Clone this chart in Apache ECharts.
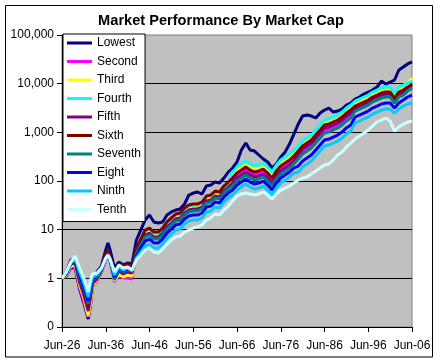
<!DOCTYPE html>
<html>
<head>
<meta charset="utf-8">
<script src="https://cdn.jsdelivr.net/npm/echarts@6/dist/echarts.min.js"></script>
<style>
html,body{margin:0;padding:0;background:#fff;}
#c{width:442px;height:363px;}
</style>
</head>
<body>
<div id="c"></div>
<script>
// Months since Jun-1926 for each observation
var months = [0,12,24,36,48,60,72,78,84,96,108,120,126,132,144,156,168,180,192,204,216,228,
240,252,264,276,288,300,312,324,336,348,360,372,384,396,408,420,432,444,456,468,
480,492,504,516,528,540,552,564,576,588,600,612,624,636,648,660,672,684,696,708,
720,732,744,756,768,780,792,804,816,828,840,852,864,876,888,900,912,924,936,948,960];

var xTicks = [0,120,240,360,480,600,720,840,960];
var xTickLabels = ['Jun-26','Jun-36','Jun-46','Jun-56','Jun-66','Jun-76','Jun-86','Jun-96','Jun-06'];

var seriesNames = ['Lowest','Second','Third','Fourth','Fifth','Sixth','Seventh','Eight','Ninth','Tenth'];
var seriesColors = ['#000080','#FF00FF','#FFFF00','#00FFFF','#800080','#800000','#008080','#0000FF','#00CCFF','#CCFFFF'];

var lowest = [1,1.12,1.63,1.63,0.603,0.311,0.146,0.270,0.800,1.35,1.79,3.82,5.32,3.82,1.63,2.16,1.88,2.06,1.97,6.13,9.83,15.8,
20.0,14.4,13.7,14.4,20.0,23.1,25.3,26.6,33.7,51.5,56.6,59.4,54.0,78.8,82.6,95.2,90.8,115,153,
185,246,433,603,433,413,342,283,246,185,224,311,394,575,922,
1480,2160,2270,2160,1970,2490,2870,3160,2610,2740,3010,3640,4000,
4840,5320,6130,6730,7400,8530,11300,9820,10800,11900,19100,22000,25400,27900];

var second = [1,1.17,1.71,1.71,0.663,0.342,0.161,0.283,0.695,0.880,1.29,2.38,2.87,2.06,0.839,1.17,1.01,1.01,0.967,3.47,5.57,8.14,
8.94,7.40,7.06,8.94,11.9,14.4,17.4,18.2,23.1,26.6,27.9,27.9,30.6,40.7,42.6,51.5,49.1,65.2,78.8,
99.8,127,146,168,146,133,139,153,127,99.8,139,176,203,234,283,
326,413,476,549,695,880,1120,1170,1290,1410,1630,1970,2270,
3160,3470,3820,4200,4840,5320,5840,6130,6130,4610,6130,6730,7760,8530];

var third = [1,1.17,1.79,1.88,0.728,0.394,0.168,0.311,0.728,0.922,1.35,2.49,3.01,2.16,0.880,1.23,1.06,1.17,1.12,3.47,5.57,8.14,
8.94,7.40,7.76,8.94,11.9,14.4,17.4,18.2,23.1,26.6,29.2,30.6,32.1,42.6,44.7,54.0,51.5,68.4,82.6,
133,168,194,224,194,176,185,203,168,133,185,234,270,311,376,
476,603,695,800,1010,1290,1630,1710,1880,2060,2380,2870,3310,
4000,4400,4840,5320,6130,6730,7400,7760,7760,5840,7760,8530,10300,13100];

var fourth = [1,1.23,1.97,2.06,0.880,0.499,0.246,0.433,0.839,1.01,1.48,2.74,3.31,2.49,1.01,1.41,1.23,1.35,1.29,3.82,6.13,9.38,
10.3,8.53,8.53,10.3,13.7,16.6,20.0,21.0,26.6,30.6,32.1,32.1,35.3,46.9,49.1,59.4,56.6,75.2,90.8,
153,194,224,258,224,203,213,234,194,153,213,270,311,359,433,
523,663,763,880,1120,1410,1790,1880,2060,2270,2610,3160,3640,
4400,4840,5320,5840,6730,7400,8140,8530,8530,6420,8530,9370,10300,11300];

var fifth = [1,1.23,1.97,2.06,0.839,0.454,0.213,0.394,0.800,0.967,1.41,2.61,3.16,2.38,0.967,1.41,1.23,1.35,1.29,3.31,5.32,7.76,
8.53,7.06,7.06,8.53,11.4,13.7,16.6,17.4,22.0,25.3,26.6,26.6,29.2,38.8,40.7,49.1,46.9,62.2,75.2,
90.8,115,133,153,133,121,127,139,115,90.8,127,161,185,213,258,
359,454,523,603,763,967,1230,1290,1410,1550,1790,2160,2490,
3160,3470,3820,4200,4840,5320,5840,6130,6130,4610,6130,6730,8140,9820];

var sixth = [1,1.35,2.38,2.49,1.01,0.549,0.270,0.499,0.922,1.12,1.63,3.16,3.82,2.87,1.29,1.97,1.79,1.97,1.79,4.00,6.42,9.83,
10.8,8.94,8.94,10.8,14.4,17.4,21.0,22.0,27.9,32.1,33.7,33.7,37.0,49.1,51.5,62.2,59.4,78.8,95.2,
115,146,168,194,168,153,161,176,146,115,161,203,234,270,326,
413,523,603,695,880,1120,1410,1480,1630,1790,2060,2490,2870,
3470,3820,4200,4610,5320,5840,6420,6730,6730,5070,6730,7400,8530,9370];

var seventh = [1,1.29,2.06,2.38,1.06,0.603,0.297,0.523,0.922,1.06,1.48,2.61,3.16,2.38,0.922,1.55,1.35,1.48,1.41,3.16,4.84,7.06,
7.76,6.42,6.42,7.76,10.3,12.5,15.1,15.8,20.0,23.1,24.2,24.2,26.6,35.3,37.0,44.7,42.6,56.6,68.4,
78.8,99.8,115,133,115,105,110,121,99.8,78.8,110,139,161,185,224,
283,359,413,476,603,763,967,1010,1120,1230,1410,1710,1970,
2740,3010,3310,3640,4200,4610,5070,5320,5320,4000,5320,5840,7060,8140];

var eighth = [1,1.29,2.06,2.49,1.17,0.663,0.342,0.603,0.967,1.12,1.55,2.61,3.01,2.38,1.06,1.63,1.41,1.55,1.41,2.87,4.20,5.84,
6.42,5.32,5.32,6.42,8.53,10.3,12.5,13.1,16.6,19.1,20.0,20.0,22.0,29.2,30.6,37.0,35.3,46.9,56.6,
65.2,82.6,95.2,110,95.2,86.6,90.8,99.8,82.6,65.2,90.8,115,133,153,185,
203,258,297,342,433,549,695,728,800,880,1010,1230,1410,
2060,2270,2490,2740,3160,3470,3820,4000,4000,3160,4000,4610,5320,5840];

var ninth = [1,1.35,2.06,2.61,1.35,0.800,0.413,0.728,1.06,1.17,1.55,2.61,3.01,2.38,1.17,1.71,1.48,1.63,1.41,2.61,3.47,4.61,
5.07,4.20,4.20,5.07,6.73,8.14,9.83,10.3,13.1,15.1,15.8,15.8,17.4,23.1,24.2,29.2,27.9,37.0,44.7,
51.5,65.2,75.2,86.6,75.2,68.4,71.7,78.8,65.2,51.5,71.7,90.8,105,121,146,
153,194,224,258,326,413,523,549,603,663,763,922,1060,
1550,1710,1880,2060,2380,2610,2870,3010,3010,2490,3010,3470,3820,4000];

var tenth = [1,1.35,2.16,2.87,1.63,1.01,0.523,0.922,1.23,1.29,1.63,2.61,3.01,2.49,1.35,1.88,1.63,1.71,1.48,2.38,3.01,3.82,
4.20,3.47,3.31,4.00,5.07,6.13,7.06,7.40,8.94,9.83,10.8,11.4,12.5,15.8,17.4,21.0,20.0,25.3,30.6,
38.8,49.1,54.0,56.6,54.0,51.5,54.0,59.4,51.5,42.6,54.0,65.2,71.7,78.8,90.8,
105,115,121,139,161,185,213,224,270,342,394,499,603,
728,839,967,1120,1350,1630,1790,1970,1710,1060,1290,1480,1630,1710];

var yTickLabels = {0.1:'0',1:'1',10:'10',100:'100',1000:'1,000',10000:'10,000',100000:'100,000'};

var allValues = [lowest,second,third,fourth,fifth,sixth,seventh,eighth,ninth,tenth];
var FONT = 'Arial, "Liberation Sans", sans-serif';

var series = seriesNames.map(function(name, k){
  return {
    name: name,
    type: 'line',
    data: months.map(function(m, i){ return [m, allValues[k][i]]; }),
    showSymbol: false,
    symbol: 'none',
    lineStyle: {width: 3, color: seriesColors[k]},
    itemStyle: {color: seriesColors[k]},
    emphasis: {disabled: true}
  };
});

var chart = echarts.init(document.getElementById('c'), null, {renderer: 'canvas'});
chart.setOption({
  animation: false,
  backgroundColor: '#ffffff',
  title: {
    text: 'Market Performance By Market Cap',
    left: 'center',
    top: 8,
    textStyle: {fontFamily: FONT, fontSize: 14.6, fontWeight: 'bold', color: '#000'}
  },
  graphic: [{
    type: 'rect',
    shape: {x: 5.5, y: 5.5, width: 427, height: 351.5},
    style: {fill: null, stroke: '#000', lineWidth: 1},
    silent: true,
    z: 0
  }],
  legend: {
    orient: 'vertical',
    left: 63,
    top: 34,
    data: seriesNames,
    icon: 'rect',
    itemWidth: 25,
    itemHeight: 3,
    itemGap: 4.5,
    padding: [2, 4, 5, 4],
    backgroundColor: '#ffffff',
    borderColor: '#000000',
    borderWidth: 1,
    textStyle: {fontFamily: FONT, fontSize: 12, lineHeight: 14, color: '#000'},
    selectedMode: false
  },
  grid: {
    left: 62, right: 30, top: 35, bottom: 36,
    show: true,
    backgroundColor: '#C0C0C0',
    borderColor: '#808080',
    borderWidth: 1
  },
  xAxis: {
    type: 'value',
    min: 0, max: 960, interval: 120,
    axisLine: {show: true, onZero: false, lineStyle: {color: '#000', width: 1}},
    axisTick: {show: true, length: 5, inside: false, lineStyle: {color: '#000'}},
    splitLine: {show: false},
    axisLabel: {
      fontFamily: FONT, fontSize: 12, color: '#000', margin: 13,
      formatter: function(v){ var i = xTicks.indexOf(v); return i >= 0 ? xTickLabels[i] : ''; }
    }
  },
  yAxis: {
    type: 'log',
    logBase: 10,
    min: 0.1, max: 100000,
    axisLine: {show: true, onZero: false, lineStyle: {color: '#000', width: 1}},
    axisTick: {show: true, length: 5, inside: false, lineStyle: {color: '#000'}},
    splitLine: {show: true, showMinLine: false, showMaxLine: false, lineStyle: {color: '#000', width: 1}},
    axisLabel: {
      fontFamily: FONT, fontSize: 12, color: '#000', margin: 8,
      formatter: function(v){
        var key = Math.round(Math.log10(v));
        var val = Math.pow(10, key);
        return yTickLabels[val] !== undefined ? yTickLabels[val] : '';
      }
    }
  },
  series: series
});
</script>
</body>
</html>
